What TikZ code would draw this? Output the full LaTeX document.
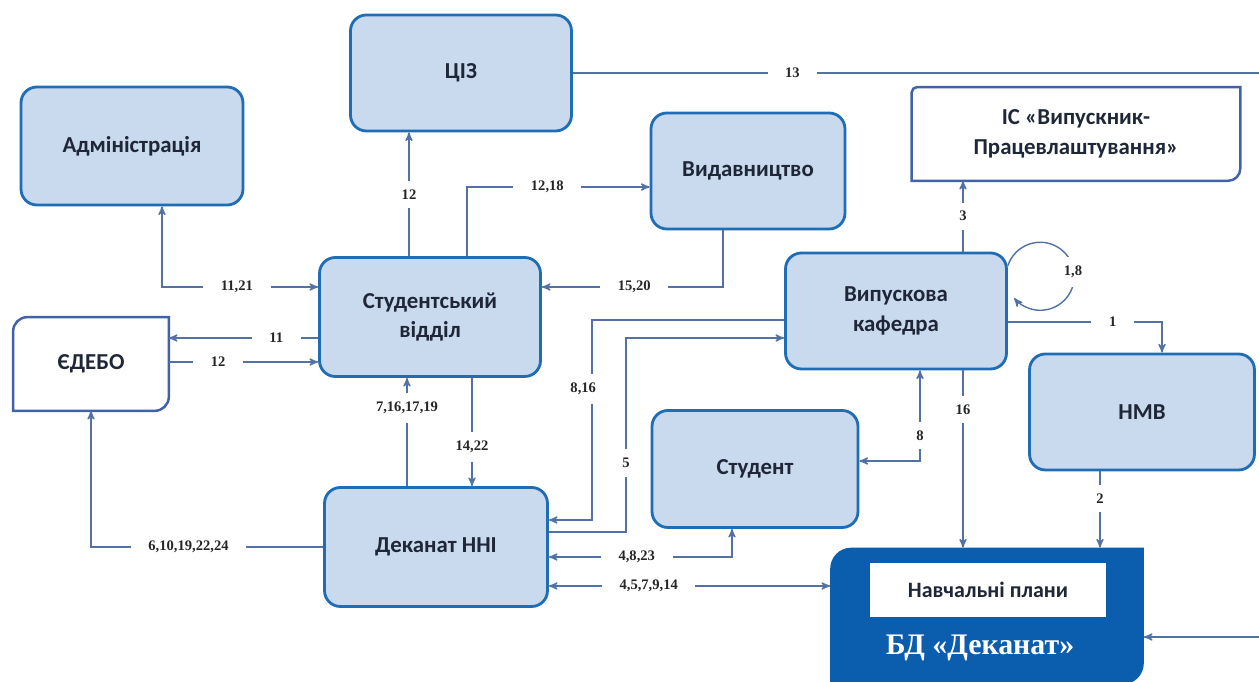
\documentclass[tikz,border=0pt]{standalone}
\usepackage{fontspec}
\setmainfont{Carlito}
\newfontfamily\numfont{Liberation Serif}
\usepackage{tikz}
\usetikzlibrary{arrows}

\definecolor{boxfill}{HTML}{C9D9EE}
\definecolor{boxline}{HTML}{1F6DB5}
\definecolor{boxtext}{HTML}{1E2638}
\definecolor{linkcol}{HTML}{5272A6}
\definecolor{extline}{HTML}{4262A8}
\definecolor{bdblue}{HTML}{0B5DAD}

\begin{document}
\begin{tikzpicture}[x=0.02cm,y=0.02cm,>=stealth',
  unit/.style={rectangle,rounded corners=9pt,draw=boxline,line width=1.6pt,fill=boxfill,
    text=boxtext,font=\bfseries\fontsize{13}{17}\selectfont,align=center},
  ext/.style={rectangle,text=boxtext,font=\bfseries\fontsize{13}{17}\selectfont,align=center},
  extborder/.style={draw=extline,line width=1.4pt},
  link/.style={draw=linkcol,line width=0.8pt},
  lbl/.style={fill=white,inner xsep=10pt,inner ysep=3pt,text=black!85,
    font=\numfont\bfseries\fontsize{8.3}{9}\selectfont},
  vlbl/.style={lbl,inner xsep=1pt,inner ysep=5pt}]

  \path[use as bounding box,clip] (0,0) rectangle (1259,682);

  % units
  \node[unit,minimum width=4.42cm,minimum height=2.32cm] (ciz) at (461,609) {ЦІЗ};
  \node[unit,minimum width=4.44cm,minimum height=2.36cm] (adm) at (132,536) {Адміністрація};
  \node[unit,minimum width=3.88cm,minimum height=2.32cm] (vyd) at (748,511) {Видавництво};
  \node[unit,minimum width=4.42cm,minimum height=2.38cm] (sv) at (430,365) {Студентський\\відділ};
  \node[unit,minimum width=4.42cm,minimum height=2.32cm] (kaf) at (896,371) {Випускова\\кафедра};
  \node[unit,minimum width=4.5cm,minimum height=2.32cm] (nmv) at (1142,270) {НМВ};
  \node[unit,minimum width=4.12cm,minimum height=2.34cm] (stud) at (755,213) {Студент};
  \node[unit,minimum width=4.46cm,minimum height=2.38cm] (dek) at (436,135) {Деканат ННІ};

  % outer systems
  \node[ext,minimum width=6.56cm,minimum height=1.86cm] (is) at (1076,548) {ІС «Випускник-\\Працевлаштування»};
  \node[ext,minimum width=3.1cm,minimum height=1.86cm] (edebo) at (91,318) {ЄДЕБО};
  \draw[extborder] (is.south west) [rounded corners=3pt] -- (is.north west) [sharp corners] -- (is.north east)
    [rounded corners=7pt] -- (is.south east) [sharp corners] -- cycle;
  \draw[extborder] (edebo.south west) [rounded corners=8pt] -- (edebo.north west) [sharp corners] -- (edebo.north east)
    [rounded corners=8pt] -- (edebo.south east) [sharp corners] -- cycle;

  % database
  \node[minimum width=6.26cm,minimum height=2.72cm] (bd) at (987,66) {};
  \fill[bdblue] (bd.south west) [rounded corners=12pt] -- (bd.north west) [sharp corners] -- (bd.north east)
    [rounded corners=12pt] -- (bd.south east) [sharp corners] -- cycle;
  \node[fill=white,minimum width=4.74cm,minimum height=1.08cm,text=boxtext,
    font=\bfseries\fontsize{12.5}{14}\selectfont] (plans) at (988,92) {Навчальні плани};
  \node[text=white,font=\numfont\bfseries\fontsize{17}{20}\selectfont] (bdname) at (980,34) {БД «Деканат»};

  % connectors
  \coordinate (e13) at (1259,609);
  \coordinate (ebd) at (1259,45);
  \draw[link] (ciz.east) -- node[lbl,pos=0.32] {13} (e13);
  \draw[link,->] (409,0 |- sv.north) -- node[vlbl] {12} (409,0 |- ciz.south);
  \draw[link,->] (467,0 |- sv.north) |- node[lbl,pos=0.72] {12,18} (vyd.west |- 0,495);
  \draw[link,<->] (sv.west |- 0,395) -| node[lbl,pos=0.26] {11,21} (162,0 |- adm.south);
  \draw[link,->] (723,0 |- vyd.south) |- node[lbl,pos=0.745] {15,20} (sv.east |- 0,395);
  \draw[link,->] (sv.west |- 0,344) -- node[lbl,pos=0.28] {11} (edebo.east |- 0,344);
  \draw[link,->] (edebo.east |- 0,320) -- node[lbl,pos=0.33] {12} (sv.west |- 0,320);
  \draw[link,->] (407,0 |- dek.north) -- node[vlbl,pos=0.72] {7,16,17,19} (407,0 |- sv.south);
  \draw[link,->] (472,0 |- sv.south) -- node[vlbl,pos=0.64] {14,22} (472,0 |- dek.north);
  \draw[link,->] (dek.west) -| node[lbl,pos=0.29] {6,10,19,22,24} (91,0 |- edebo.south);
  \draw[link,->] (kaf.west |- 0,362) -| (592,293) node[vlbl,xshift=-5pt] {8,16} |- (dek.east |- 0,162);
  \draw[link,->] (dek.east |- 0,150) -| (626,219) node[vlbl] {5} |- (kaf.west |- 0,344);
  \draw[link,<->] (dek.east |- 0,125) -| node[lbl,pos=0.24] {4,8,23} (732,0 |- stud.south);
  \draw[link,<->] (dek.east |- 0,96) -- node[lbl,pos=0.355] {4,5,7,9,14} (bd.west |- 0,96);
  \draw[link,<->] (920,0 |- kaf.south) |- node[vlbl,pos=0.36] {8} (stud.east |- 0,221);
  \draw[link,->] (963,0 |- kaf.south) -- node[vlbl,pos=0.22] {16} (963,0 |- bd.north);
  \draw[link,->] (963,0 |- kaf.north) -- node[vlbl] {3} (963,0 |- is.south);
  \draw[link,->] (kaf.east |- 0,360) -| node[lbl,pos=0.34] {1} (1162,0 |- nmv.north);
  \draw[link,->] (1100,0 |- nmv.south) -- node[vlbl,pos=0.36] {2} (1100,0 |- bd.north);
  \draw[link,->] (ebd) -- (bd.east |- ebd);
  \draw[link,->] (kaf.22) arc[start angle=162,end angle=-140,radius=34];
  \node[vlbl] (l18) at (1073,410) {1,8};

\end{tikzpicture}
\end{document}
